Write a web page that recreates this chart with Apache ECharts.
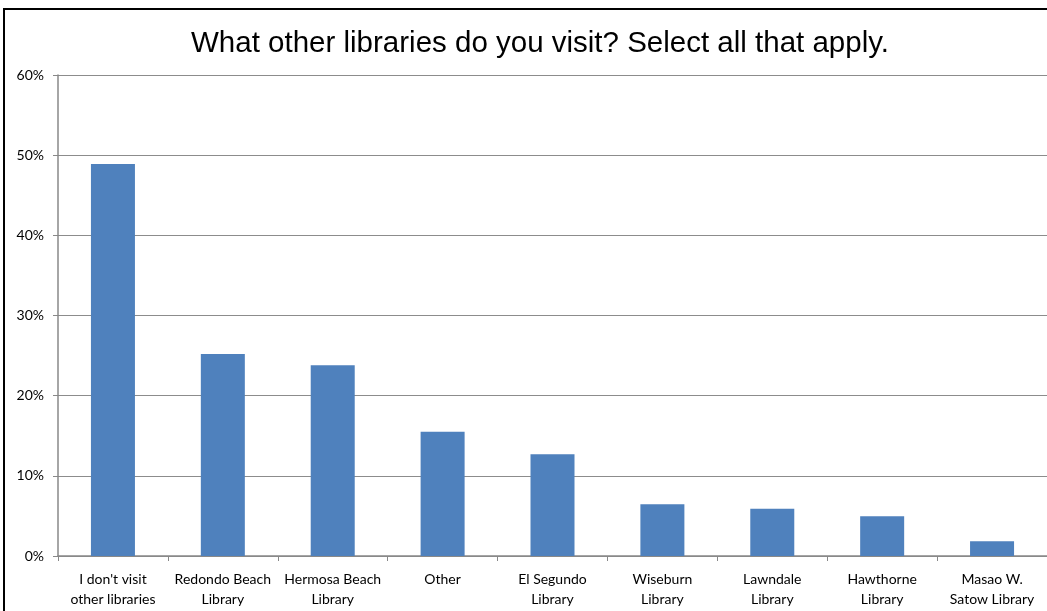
<!DOCTYPE html>
<html><head><meta charset="utf-8">
<script src="https://cdn.jsdelivr.net/npm/echarts@6/dist/echarts.min.js"></script>
<style>html,body{margin:0;padding:0;background:#fff}#c{width:1047px;height:611px}</style>
</head><body><div id="c"></div>
<script>
const categories = ["I don't visit\nother libraries","Redondo Beach\nLibrary","Hermosa Beach\nLibrary","Other","El Segundo\nLibrary","Wiseburn\nLibrary","Lawndale\nLibrary","Hawthorne\nLibrary","Masao W.\nSatow Library"];
const values = [48.9, 25.2, 23.8, 15.5, 12.7, 6.45, 5.9, 4.95, 1.85];
const yTicks = [0, 10, 20, 30, 40, 50, 60];
const titleText = "What other libraries do you visit? Select all that apply.";

const chart = echarts.init(document.getElementById('c'), null, {renderer:'canvas'});
chart.setOption({
  backgroundColor:'#fff',
  animation:false,
  title:{text:titleText,left:535,textAlign:'center',top:24,
    textStyle:{fontFamily:'Liberation Sans',fontSize:29.5,fontWeight:'normal',color:'#000'}},
  graphic:[{type:'rect',shape:{x:4,y:9,width:1100,height:700},style:{fill:'none',stroke:'#000',lineWidth:2},silent:true,z:100}],
  grid:{left:58,right:0,top:75,bottom:55,containLabel:false},
  xAxis:{type:'category',data:categories,
    axisLine:{lineStyle:{color:'#888',width:1.5}},
    axisTick:{show:true,length:5,lineStyle:{color:'#888'},alignWithLabel:false},
    axisLabel:{interval:0,color:'#000',fontFamily:'Lato',fontSize:14,lineHeight:20,margin:13}},
  yAxis:{type:'value',min:0,max:60,interval:10,
    axisLine:{show:true,lineStyle:{color:'#888',width:1.5}},
    axisTick:{show:true,length:5,lineStyle:{color:'#888'}},
    splitLine:{lineStyle:{color:'#8c8c8c',width:1.2}},
    axisLabel:{color:'#000',fontFamily:'Lato',fontSize:14,margin:14,
      formatter:v=>yTicks.includes(v)?v+'%':''}},
  series:[{type:'bar',data:values,barWidth:44,itemStyle:{color:'#4f81bd'}}]
});
</script></body></html>
